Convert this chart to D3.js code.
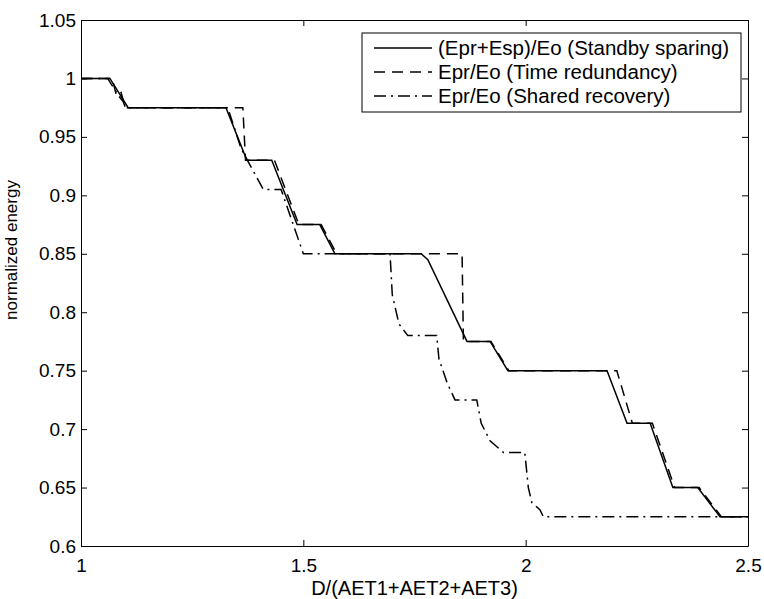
<!DOCTYPE html>
<html>
<head>
<meta charset="utf-8">
<script src="https://cdn.jsdelivr.net/npm/d3@7"></script>
<style>
  body { margin: 0; background: #fff; }
  text { font-family: "Liberation Sans", Arial, sans-serif; fill: #000; }
</style>
</head>
<body>
<div id="chart"></div>
<script>
const svgWidth = 764;
const svgHeight = 599;
const margin = { top: 20, right: 16, bottom: 53, left: 81 };
const width = svgWidth - margin.left - margin.right;
const height = svgHeight - margin.top - margin.bottom;

// series
const standbyX = [1, 1.065, 1.106, 1.326, 1.373, 1.429, 1.486, 1.537, 1.571, 1.765, 1.78, 1.868, 1.92, 1.96, 2.183, 2.228, 2.28, 2.331, 2.387, 2.437, 2.5];
const standbyY = [1, 1, 0.975, 0.975, 0.93, 0.93, 0.875, 0.875, 0.85, 0.85, 0.845, 0.775, 0.775, 0.75, 0.75, 0.705, 0.705, 0.65, 0.65, 0.625, 0.625];
const timeX = [1, 1.07, 1.08, 1.09, 1.1, 1.364, 1.37, 1.435, 1.49, 1.54, 1.575, 1.857, 1.86, 1.922, 1.962, 2.205, 2.24, 2.285, 2.335, 2.39, 2.44, 2.5];
const timeY = [1, 1, 0.985, 0.988, 0.975, 0.975, 0.93, 0.93, 0.875, 0.875, 0.85, 0.85, 0.775, 0.775, 0.75, 0.75, 0.705, 0.705, 0.65, 0.65, 0.625, 0.625];
const sharedX = [1, 1.06, 1.085, 1.095, 1.1, 1.33, 1.36, 1.41, 1.45, 1.5, 1.695, 1.70, 1.715, 1.735, 1.80, 1.805, 1.823, 1.841, 1.89, 1.9, 1.92, 1.95, 1.998, 2.006, 2.014, 2.032, 2.04, 2.5];
const sharedY = [1, 1, 0.985, 0.98, 0.975, 0.975, 0.94, 0.905, 0.905, 0.85, 0.85, 0.815, 0.79, 0.78, 0.78, 0.76, 0.74, 0.725, 0.725, 0.705, 0.69, 0.68, 0.68, 0.65, 0.637, 0.631, 0.625, 0.625];

const series = [
  { name: "(Epr+Esp)/Eo (Standby sparing)", xs: standbyX, ys: standbyY, dash: null },
  { name: "Epr/Eo (Time redundancy)", xs: timeX, ys: timeY, dash: "11,7" },
  { name: "Epr/Eo (Shared recovery)", xs: sharedX, ys: sharedY, dash: "12,5,2,5" }
];

const xTicks = [1, 1.5, 2, 2.5];
const yTicks = [0.6, 0.65, 0.7, 0.75, 0.8, 0.85, 0.9, 0.95, 1, 1.05];

let svg = d3.select("#chart").append("svg").attr("width", svgWidth).attr("height", svgHeight);
let chrtgrp = svg.append("g").attr("transform", `translate(${margin.left}, ${margin.top})`);

let xlin = d3.scaleLinear().domain([1, 2.5]).range([0, width]);
let ylin = d3.scaleLinear().domain([0.6, 1.05]).range([height, 0]);

let fmt = d => String(+d.toFixed(2));

// axes with inward ticks on all four sides (matlab box)
let mkaxis = (axis, tr) => {
  let g = chrtgrp.append("g").attr("transform", tr).call(axis);
  g.select(".domain").attr("stroke", "#000").attr("stroke-width", 1);
  g.selectAll(".tick line").attr("stroke", "#000");
  return g;
}
let xAxis = mkaxis(d3.axisBottom(xlin).tickValues(xTicks).tickSize(-6).tickSizeOuter(0).tickPadding(13).tickFormat(fmt), `translate(0, ${height})`);
mkaxis(d3.axisTop(xlin).tickValues(xTicks).tickSize(-6).tickSizeOuter(0).tickFormat(""), "translate(0, 0)");
let yAxis = mkaxis(d3.axisLeft(ylin).tickValues(yTicks).tickSize(-6).tickSizeOuter(0).tickPadding(5).tickFormat(fmt), "translate(0, 0)");
mkaxis(d3.axisRight(ylin).tickValues(yTicks).tickSize(-6).tickSizeOuter(0).tickFormat(""), `translate(${width}, 0)`);

chrtgrp.selectAll(".tick text").attr("font-size", 19).attr("font-family", "Liberation Sans, Arial, sans-serif").attr("fill", "#000");

// lines
let line = d3.line().x(d => xlin(d[0])).y(d => ylin(d[1]));
series.forEach(s => {
  let pts = s.xs.map((x, i) => [x, s.ys[i]]);
  chrtgrp.append("path")
    .datum(pts)
    .attr("d", line)
    .attr("fill", "none")
    .attr("stroke", "#000")
    .attr("stroke-width", 1.5)
    .attr("stroke-dasharray", s.dash);
});

// axis labels
chrtgrp.append("text")
  .attr("x", width / 2)
  .attr("y", height + 49)
  .attr("text-anchor", "middle")
  .attr("font-size", 20)
  .text("D/(AET1+AET2+AET3)");
chrtgrp.append("text")
  .attr("transform", `translate(${-64}, ${250 - margin.top}) rotate(-90)`)
  .attr("text-anchor", "middle")
  .attr("font-size", 17)
  .text("normalized energy");

// legend
let lgd = chrtgrp.append("g").attr("transform", `translate(${362 - margin.left}, ${33 - margin.top})`);
lgd.append("rect")
  .attr("width", 379)
  .attr("height", 79)
  .attr("fill", "#fff")
  .attr("stroke", "#000")
  .attr("stroke-width", 1);
series.forEach((s, i) => {
  let cy = 15 + i * 24;
  lgd.append("line")
    .attr("x1", 12).attr("x2", 70)
    .attr("y1", cy).attr("y2", cy)
    .attr("stroke", "#000")
    .attr("stroke-width", 1.5)
    .attr("stroke-dasharray", s.dash);
  lgd.append("text")
    .attr("x", 76)
    .attr("y", cy)
    .attr("dy", "0.35em")
    .attr("font-size", 20.5)
    .text(s.name);
});
</script>
</body>
</html>
